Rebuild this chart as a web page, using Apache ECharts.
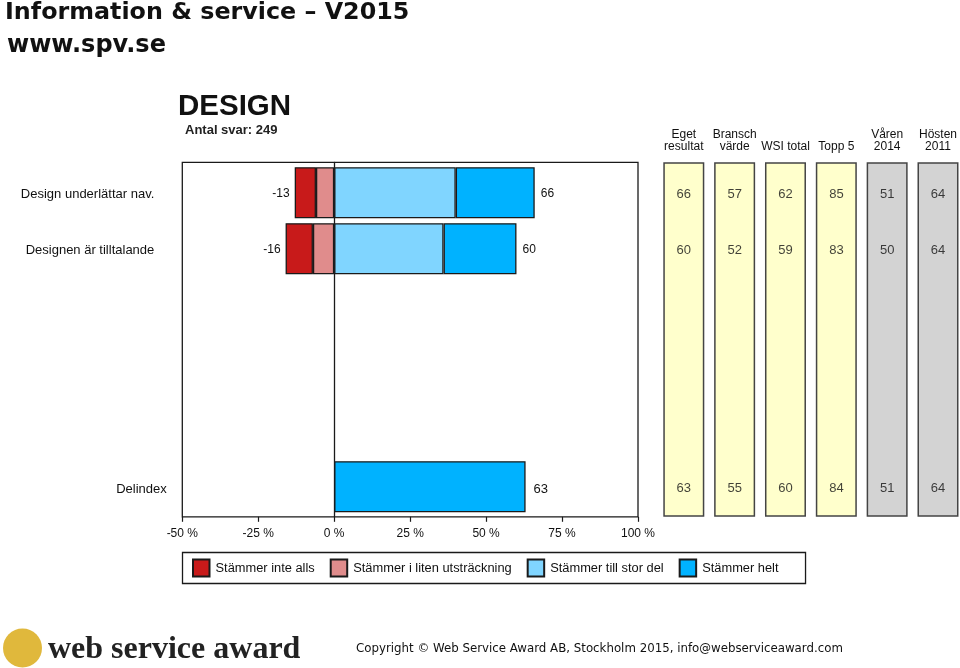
<!DOCTYPE html>
<html>
<head>
<meta charset="utf-8">
<title>Design</title>
<style>
html, body { margin: 0; padding: 0; background: #fff; }
#main { width: 960px; height: 668px; }
</style>
<script src="https://cdn.jsdelivr.net/npm/echarts@6/dist/echarts.min.js"></script>
</head>
<body>
<div id="main"></div>
<script>
var rowNames = ['Design underlättar nav.', 'Designen är tilltalande'];
var indexName = ['Delindex'];
var legendNames = ['Stämmer inte alls', 'Stämmer i liten utsträckning', 'Stämmer till stor del', 'Stämmer helt'];
var inteAlls = [-7, -9];
var litenUtstr = [-6, -7];
var tillStor = [40, 36];
var helt = [26, 24];
var negTotals = [-13, -16];
var posTotals = [66, 60];
var indexValue = [63];
var columnNames = ['Eget\nresultat', 'Bransch\nvärde', 'WSI total', 'Topp 5', 'Våren\n2014', 'Hösten\n2011'];
var tableRow1 = [66, 57, 62, 85, 51, 64];
var tableRow2 = [60, 52, 59, 83, 50, 64];
var tableIndex = [63, 55, 60, 84, 51, 64];
var boxFull = [1, 1, 1, 1, 1, 1];
var boxColors = ['#FFFFCC', '#FFFFCC', '#FFFFCC', '#FFFFCC', '#D3D3D3', '#D3D3D3'];

var FONT = '"Liberation Sans", Arial, sans-serif';
var VERDANA = '"DejaVu Sans", sans-serif';
var LINE = '#1a1a1a';
var TEXT = '#111';

function tablePoints(values, row) {
	var out = [];
	for(var i = 0; i < values.length; i++) {
		out.push([i, row, values[i]]);
	}
	return out;
}

function stackSeries(name, data, color, extra) {
	var s = {
		name: name,
		type: 'bar',
		stack: 'rows',
		xAxisIndex: 1,
		yAxisIndex: 1,
		barWidth: 51,
		data: data,
		itemStyle: { color: color, borderColor: LINE, borderWidth: 1.3 }
	};
	for(var k in extra) {
		s[k] = extra[k];
	}
	return s;
}

function numberSeries(data, axis, shift) {
	return {
		type: 'scatter',
		xAxisIndex: axis,
		yAxisIndex: axis,
		symbolSize: 0,
		silent: true,
		clip: false,
		z: 5,
		data: data,
		label: {
			show: true,
			position: 'inside',
			offset: [0, shift],
			color: TEXT,
			fontFamily: FONT,
			fontSize: 13,
			formatter: function(p) {
				return p.value[2];
			}
		}
	};
}

// hidden value axis shared by the bar grids
function hiddenX(grid) {
	return { type: 'value', gridIndex: grid, min: -50, max: 100, show: false };
}

// columns sit on the grid edges so the last box can run to the window edge
function columnAxis(grid) {
	return { type: 'category', gridIndex: grid, show: false, boundaryGap: false, data: columnNames };
}

// row names sit a little below the bar centre, rich padding pushes them down
function rowLabel(margin, down) {
	return {
		margin: margin,
		formatter: '{a|{value}}',
		rich: {
			a: { color: TEXT, fontFamily: FONT, fontSize: 13, padding: [down, 0, 0, 0] }
		}
	};
}

var option = {
	animation: false,
	backgroundColor: '#fff',
	textStyle: { fontFamily: FONT },
	title: [
		{ text: 'Information & service – V2015', left: 0, top: -4, textStyle: { fontFamily: VERDANA, fontSize: 23.8, fontWeight: 'bold', color: '#111' } },
		{ text: 'www.spv.se', left: 2, top: 29, textStyle: { fontFamily: VERDANA, fontSize: 24, fontWeight: 'bold', color: '#111' } },
		{ text: 'DESIGN', left: 173, top: 87, textStyle: { fontFamily: FONT, fontSize: 29.5, fontWeight: 'bold', color: '#111' } },
		{ text: 'Antal svar: 249', left: 180, top: 119, textStyle: { fontFamily: FONT, fontSize: 13, fontWeight: 'bold', color: '#222' } }
	],
	graphic: [
		{ type: 'circle', shape: { cx: 22.5, cy: 648, r: 19.5 }, style: { fill: '#E0B83C' } },
		{ type: 'text', left: 48, top: 634, style: { text: 'web service award', fill: '#222', font: 'bold 32px "Liberation Serif", serif' } },
		{ type: 'text', left: 356, top: 643, style: { text: 'Copyright © Web Service Award AB, Stockholm 2015, info@webserviceaward.com', fill: '#111', font: '11.8px "DejaVu Sans", sans-serif' } }
	],
	legend: {
		left: 182.5,
		top: 552.5,
		orient: 'horizontal',
		data: legendNames.map(function(n) {
			return { name: n, icon: 'rect' };
		}),
		itemWidth: 16.5,
		itemHeight: 17,
		itemGap: 15,
		padding: [6, 27, 6, 9.5],
		borderColor: LINE,
		borderWidth: 1.3,
		selectedMode: false,
		textStyle: { fontFamily: FONT, fontSize: 12.85, color: TEXT, padding: [0, 0, 0, 1] }
	},
	grid: [
		{ left: 182.3, top: 162.3, width: 455.7, height: 354.5, show: true, borderColor: LINE, borderWidth: 1.3, backgroundColor: 'transparent' },
		{ left: 182.3, top: 164.7, width: 455.7, height: 112 },
		{ left: 182.3, top: 458.7, width: 455.7, height: 56 },
		{ left: 683.8, top: 162.3, width: 254.3, height: 354.5 },
		{ left: 683.8, top: 164.7, width: 254.3, height: 112 },
		{ left: 683.8, top: 458.7, width: 254.3, height: 56 }
	],
	xAxis: [
		{
			type: 'value',
			gridIndex: 0,
			min: -50,
			max: 100,
			interval: 25,
			splitLine: { show: false },
			axisLine: { show: false },
			axisTick: { show: true, length: 5, lineStyle: { color: LINE, width: 1.2 } },
			axisLabel: { color: TEXT, fontFamily: FONT, fontSize: 12, margin: 11, formatter: '{value} %', hideOverlap: false, showMinLabel: true, showMaxLabel: true }
		},
		hiddenX(1),
		hiddenX(2),
		{
			type: 'category',
			gridIndex: 3,
			position: 'top',
			boundaryGap: false,
			data: columnNames,
			axisLine: { show: false },
			axisTick: { show: false },
			axisLabel: { interval: 0, color: TEXT, fontFamily: FONT, fontSize: 12, lineHeight: 12, margin: 10, showMinLabel: true, showMaxLabel: true }
		},
		columnAxis(4),
		columnAxis(5)
	],
	yAxis: [
		{
			type: 'value',
			gridIndex: 0,
			min: 0,
			max: 1,
			splitLine: { show: false },
			axisLine: { show: true, onZero: true, lineStyle: { color: LINE, width: 1.3 } },
			axisTick: { show: false },
			axisLabel: { show: false }
		},
		{
			type: 'category',
			gridIndex: 1,
			inverse: true,
			data: rowNames,
			axisLine: { show: false },
			axisTick: { show: false },
			axisLabel: rowLabel(28, 4)
		},
		{
			type: 'category',
			gridIndex: 2,
			data: indexName,
			axisLine: { show: false },
			axisTick: { show: false },
			axisLabel: rowLabel(15.5, 6)
		},
		{ type: 'value', gridIndex: 3, min: 0, max: 1, show: false },
		{ type: 'category', gridIndex: 4, show: false, inverse: true, data: rowNames },
		{ type: 'category', gridIndex: 5, show: false, data: indexName }
	],
	series: [
		stackSeries(legendNames[1], litenUtstr, '#E08C8C'),
		stackSeries(legendNames[0], inteAlls, '#C81A1A', {
			label: {
				show: true,
				position: 'left',
				distance: 5,
				offset: [0, 1],
				color: TEXT,
				fontFamily: FONT,
				fontSize: 12,
				formatter: function(p) {
					return negTotals[p.dataIndex];
				}
			}
		}),
		stackSeries(legendNames[2], tillStor, '#80D5FF'),
		stackSeries(legendNames[3], helt, '#00B2FF', {
			label: {
				show: true,
				position: 'right',
				distance: 6,
				offset: [0, 1],
				color: TEXT,
				fontFamily: FONT,
				fontSize: 12,
				formatter: function(p) {
					return posTotals[p.dataIndex];
				}
			}
		}),
		{
			name: legendNames[3],
			type: 'bar',
			xAxisIndex: 2,
			yAxisIndex: 2,
			barWidth: 51,
			data: indexValue,
			itemStyle: { color: '#00B2FF', borderColor: LINE, borderWidth: 1.3 },
			label: { show: true, position: 'right', distance: 8, offset: [0, 3], color: TEXT, fontFamily: FONT, fontSize: 13 }
		},
		{
			type: 'bar',
			xAxisIndex: 3,
			yAxisIndex: 3,
			barWidth: 41,
			clip: false,
			silent: true,
			data: boxFull.map(function(v, i) {
				return { value: v, itemStyle: { color: boxColors[i], borderColor: '#444', borderWidth: 1.5 } };
			})
		},
		numberSeries(tablePoints(tableRow1, 0), 4, 2),
		numberSeries(tablePoints(tableRow2, 1), 4, 2),
		numberSeries(tablePoints(tableIndex, 0), 5, 2)
	]
};

var myChart = echarts.init(document.getElementById('main'), null, { renderer: 'canvas' });
myChart.setOption(option);
</script>
</body>
</html>
